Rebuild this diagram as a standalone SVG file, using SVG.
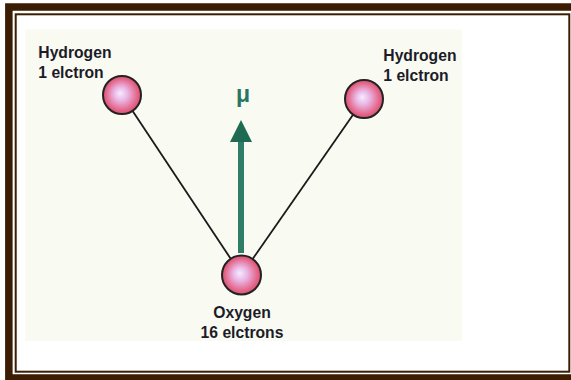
<svg xmlns="http://www.w3.org/2000/svg" width="571" height="380" viewBox="0 0 571 380">
<defs>
<radialGradient id="ball" cx="0.5" cy="0.5" r="0.5" fx="0.45" fy="0.45">
<stop offset="0" stop-color="#f6ecff"/>
<stop offset="0.35" stop-color="#eab8e6"/>
<stop offset="0.8" stop-color="#e46a8e"/>
<stop offset="1" stop-color="#d9506f"/>
</radialGradient>
<marker id="ah" viewBox="0 0 22 24" refX="0" refY="12" markerWidth="22" markerHeight="24" markerUnits="userSpaceOnUse" orient="auto">
<path d="M0,1 L22,12 L0,23 Z" fill="#1f6a52"/>
</marker>
</defs>
<style>
.lbl{font-family:"Liberation Sans",Arial,sans-serif;font-weight:bold;font-size:15.7px;fill:#1c1c28}
.atom{fill:url(#ball);stroke:#222;stroke-width:2}
.bond{stroke:#1a1a1a;stroke-width:1.8;fill:none}
</style>
<rect x="0" y="0" width="571" height="380" fill="#ffffff"/>
<rect x="8.85" y="7" width="570" height="371" fill="none" stroke="#3a1d02" stroke-width="7.5"/>
<rect x="15.7" y="14.3" width="553.6" height="357.4" fill="none" stroke="#3a1d02" stroke-width="2"/>
<rect x="25" y="29.5" width="437" height="311.5" fill="#f9faf2"/>
<g id="connectors">
<line class="bond" x1="122" y1="95" x2="241.5" y2="275"/>
<line class="bond" x1="364" y1="99" x2="241.5" y2="275"/>
<line x1="241" y1="253" x2="241" y2="142" stroke="#2f7c67" stroke-width="6" marker-end="url(#ah)"/>
</g>
<g id="hydrogen-left">
<circle class="atom" cx="122" cy="95" r="19"/>
<text class="lbl" x="38.3" y="58">Hydrogen</text>
<text class="lbl" x="38.3" y="78">1 elctron</text>
</g>
<g id="hydrogen-right">
<circle class="atom" cx="364" cy="99" r="19"/>
<text class="lbl" x="383.3" y="61">Hydrogen</text>
<text class="lbl" x="383.3" y="81">1 elctron</text>
</g>
<g id="oxygen">
<circle class="atom" cx="241.5" cy="275" r="19.5"/>
<text class="lbl" x="242" y="317.5" text-anchor="middle">Oxygen</text>
<text class="lbl" x="242" y="337.5" text-anchor="middle">16 elctrons</text>
</g>
<g id="mu">
<text x="243" y="102" text-anchor="middle" font-family="'Liberation Sans',Arial,sans-serif" font-weight="bold" font-size="23" fill="#2a7560">μ</text>
</g>
</svg>
